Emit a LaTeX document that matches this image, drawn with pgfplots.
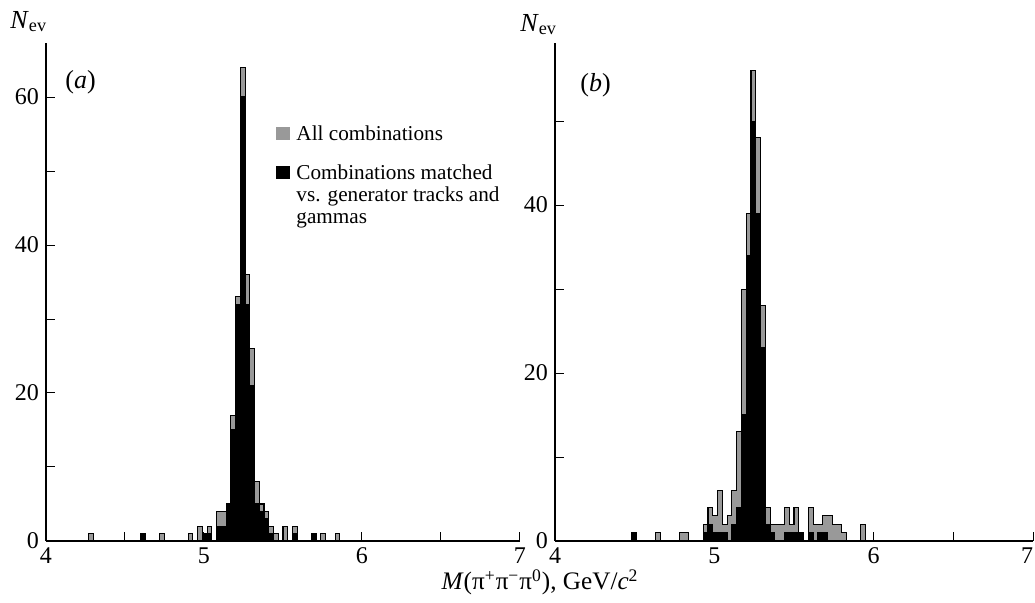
\documentclass[border=0pt]{standalone}
\usepackage{fontspec}
\setmainfont{Liberation Serif}
\usepackage{pgfplots}
\pgfplotsset{compat=1.18}
\usepackage{pgfplotstable}

\pgfplotstableread{
x g b
4.24 0 0
4.27 1 0
4.30 0 0
4.60 1 1
4.63 0 0
4.72 1 0
4.75 0 0
4.90 1 0
4.93 0 0
4.96 2 0
4.99 1 1
5.02 2 1
5.05 0 0
5.08 4 2
5.11 4 2
5.14 5 5
5.17 17 15
5.20 33 32
5.23 64 60
5.26 36 32
5.29 26 21
5.32 8 5
5.35 5 4
5.38 4 3
5.41 2 1
5.44 1 0
5.47 0 0
5.50 2 0
5.53 0 0
5.56 2 1
5.59 0 0
5.68 1 1
5.71 0 0
5.74 1 0
5.77 0 0
5.83 1 0
5.86 0 0
}\lefttab

\pgfplotstableread{
x g b
4.45 0 0
4.48 1 1
4.51 0 0
4.63 1 0
4.66 0 0
4.78 1 0
4.81 1 0
4.84 0 0
4.93 2 1
4.96 4 2
4.99 3 1
5.02 6 1
5.05 2 1
5.08 3 0
5.11 6 2
5.14 13 4
5.17 30 15
5.20 39 34
5.23 56 50
5.26 48 39
5.29 28 23
5.32 4 2
5.35 2 1
5.38 2 0
5.41 2 0
5.44 4 1
5.47 2 1
5.50 4 1
5.53 1 1
5.56 0 0
5.59 4 1
5.62 2 0
5.65 2 1
5.68 3 1
5.71 3 0
5.74 2 0
5.77 2 0
5.80 1 0
5.83 0 0
5.92 2 0
5.95 0 0
}\righttab

\pgfplotsset{
 myaxis/.style={
  scale only axis, height=249pt, ymin=0, xmin=4, xmax=7, enlargelimits=false,
  axis x line=bottom, axis y line=left,
  axis line style={-, line width=0.6pt, black},
  tick align=inside, major tick length=4.5pt, minor tick length=4.5pt,
  tick style={line width=0.5pt, black},
  minor xtick={4.5,5.5,6.5}, minor ytick={10,30,50},
  tick label style={font=\fontsize{12}{14}\selectfont},
  /pgf/number format/assume math mode=true,
  clip=false,
 },
 gray hist/.style={const plot, fill=black!40, draw=black, line width=0.55pt},
 black hist/.style={const plot, fill=black, draw=black, line width=0.55pt},
}

\begin{document}
\begin{tikzpicture}
\useasboundingbox (-23pt,-31pt) rectangle (494.5pt,270.5pt);
\begin{axis}[myaxis, at={(0pt,0pt)}, anchor=south west, width=237pt, ymax=67.3, ytick={0,20,40,60}, xtick={4,5,6,7}]
 \addplot[gray hist] table[x=x,y=g]{\lefttab} \closedcycle;
 \addplot[black hist] table[x=x,y=b]{\lefttab} \closedcycle;
 \node[anchor=base west, inner sep=0pt, font=\fontsize{13}{15}\selectfont] at (axis cs:3.772,69.3) {\textit{N}\textsubscript{ev}};
 \node[anchor=base west, inner sep=0pt, font=\fontsize{13}{15}\selectfont] at (axis cs:4.12,61.1) {(\textit{a})};
 \node[anchor=north west, inner sep=0pt, font=\fontsize{10.6}{11}\selectfont] at (axis cs:5.456,56.3) {%
  \begin{tabular}{@{}l@{\hspace{3pt}}l@{}}
  \textcolor{black!40}{\rule{7pt}{6.5pt}} & All combinations\\[8.5pt]
  \rule{7pt}{6.5pt} & Combinations matched\\
   & vs. generator tracks and\\
   & gammas
  \end{tabular}};
 \node[anchor=base, inner sep=0pt, font=\fontsize{12.6}{14}\selectfont] at (axis cs:7.127,-6.6) {\textit{M}(π\textsuperscript{+}π\textsuperscript{−}π\textsuperscript{0}), GeV/\textit{c}\textsuperscript{2}};
\end{axis}
\begin{axis}[myaxis, at={(254.5pt,0pt)}, anchor=south west, width=239pt, ymax=59.3, ytick={0,20,40},
  xtick={4,5,6}, extra x ticks={7}, extra x tick style={xticklabel style={xshift=-3pt}}]
 \addplot[gray hist] table[x=x,y=g]{\righttab} \closedcycle;
 \addplot[black hist] table[x=x,y=b]{\righttab} \closedcycle;
 \node[anchor=base west, inner sep=0pt, font=\fontsize{13}{15}\selectfont] at (axis cs:3.78,60.7) {\textit{N}\textsubscript{ev}};
 \node[anchor=base west, inner sep=0pt, font=\fontsize{13}{15}\selectfont] at (axis cs:4.157,53.5) {(\textit{b})};
\end{axis}
\end{tikzpicture}
\end{document}
